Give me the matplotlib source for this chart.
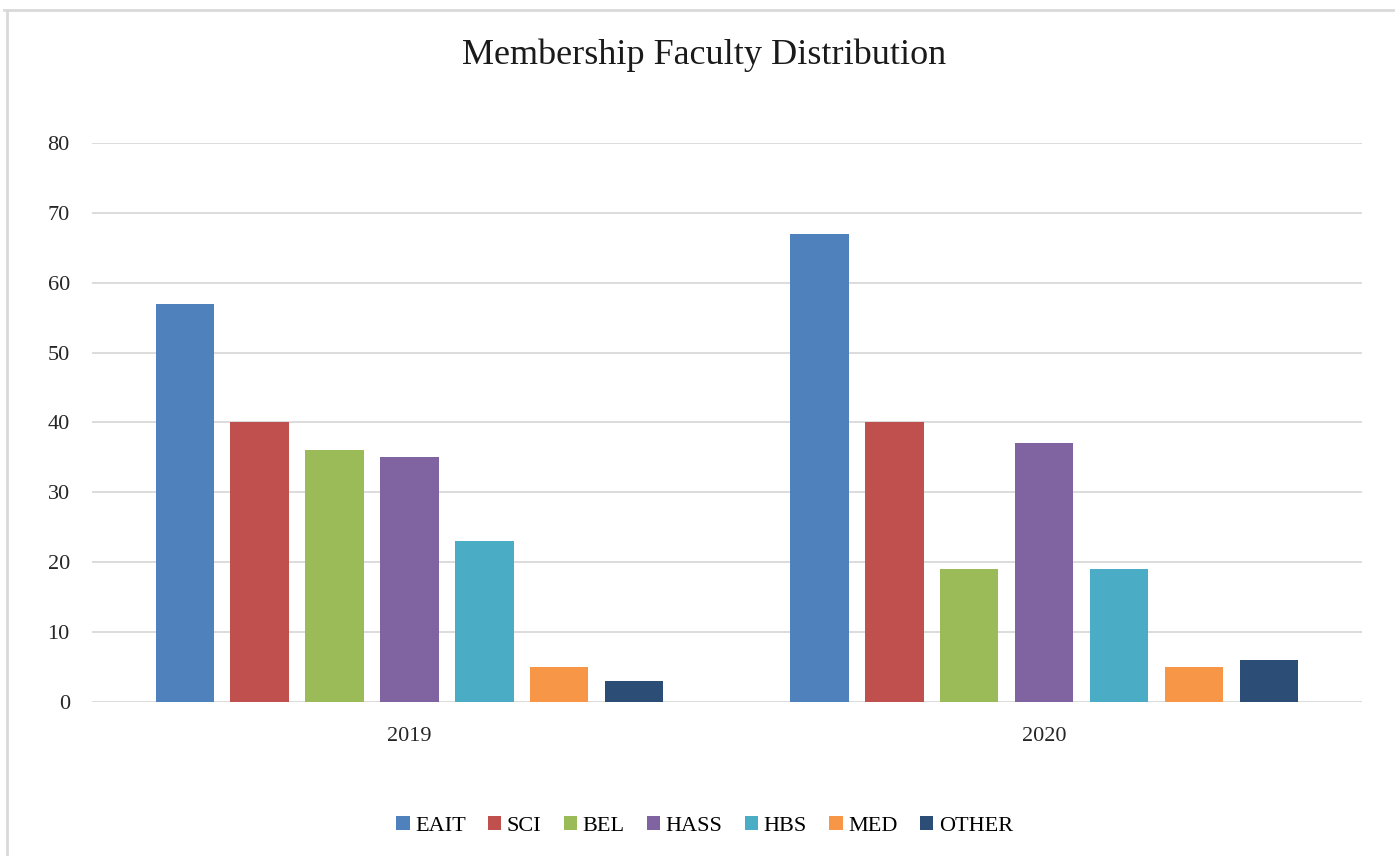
"""
Membership Faculty Distribution: grouped bar chart, Excel-style.
Writes out.png (1395x856).
"""
import matplotlib
matplotlib.use('Agg')
import matplotlib.pyplot as plt
import numpy as np
from matplotlib.lines import Line2D

years = ['2019', '2020']
faculties = ['EAIT', 'SCI', 'BEL', 'HASS', 'HBS', 'MED', 'OTHER']
eait = [57, 67]
sci = [40, 40]
bel = [36, 19]
hass = [35, 37]
hbs = [23, 19]
med = [5, 5]
other = [3, 6]
colors = ['#4F81BD', '#C0504D', '#9BBB59', '#8064A2', '#4BACC6', '#F79646', '#2C4D75']

plt.rcParams.update({'font.family': ['Liberation Serif', 'DejaVu Serif']})

fig = plt.figure(figsize=(13.95, 8.56), dpi=100)
ax = fig.add_axes([0.066, 0.18, 0.910, 0.653])

series = [eait, sci, bel, hass, hbs, med, other]
x = np.arange(len(years))
step, width = 0.118, 0.092
for i, (name, vals, c) in enumerate(zip(faculties, series, colors)):
    ax.bar(x + (i - 3) * step, vals, width=width, color=c, label=name, zorder=3)

ax.set_xlim(-0.5, 1.5)
ax.set_ylim(0, 80)
ax.set_yticks(range(0, 81, 10))
ax.set_xticks(x)
ax.set_xticklabels(years)
ax.yaxis.grid(True, color='#D9D9D9', lw=1.3, zorder=0)
for s in ax.spines.values():
    s.set_visible(False)
ax.tick_params(axis='both', length=0, labelsize=16, colors='#262626')
ax.tick_params(axis='y', pad=16)
ax.tick_params(axis='x', pad=18)

fig.suptitle('Membership Faculty Distribution', x=0.505, y=0.955, fontsize=26, color='#1a1a1a')
fig.legend(loc='center', bbox_to_anchor=(0.505, 0.035), ncol=7, frameon=False, fontsize=16,
           handlelength=0.6, handleheight=0.6, handletextpad=0.25, columnspacing=1.0)

# chart frame (top and left edges visible in the source)
fig.add_artist(Line2D([0.003, 1.0], [0.988, 0.988], color='#D9D9D9', lw=2, transform=fig.transFigure))
fig.add_artist(Line2D([0.005, 0.005], [0.0, 0.988], color='#D9D9D9', lw=2, transform=fig.transFigure))

fig.savefig('out.png', dpi=100)
